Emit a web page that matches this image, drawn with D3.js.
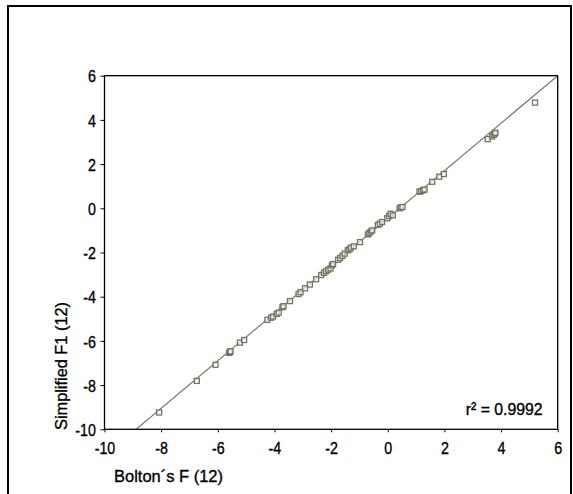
<!DOCTYPE html>
<html>
<head>
<meta charset="utf-8">
<script src="https://cdn.jsdelivr.net/npm/d3@7"></script>
<style>
  body { margin: 0; background: #fff; }
  text { font-family: "Liberation Sans", Arial, sans-serif; fill: #000; stroke: #000; stroke-width: 0.35px; }
</style>
</head>
<body>
<div id="scatter"></div>
<script>
// data
var boltonF = [-8.07, -6.74, -6.08, -5.60, -5.57, -5.55, -5.22, -5.07, -4.25, -4.12,
    -4.05, -3.92, -3.85, -3.72, -3.68, -3.45, -3.15, -3.08, -2.92, -2.75,
    -2.53, -2.35, -2.25, -2.18, -2.10, -2.02, -1.97, -1.93, -1.75, -1.68,
    -1.60, -1.52, -1.41, -1.35, -1.30, -1.20, -0.98, -0.70, -0.65, -0.60,
    -0.55, -0.35, -0.28, -0.20, -0.02, 0.05, 0.10, 0.18, 0.42, 0.46,
    0.52, 1.12, 1.18, 1.25, 1.30, 1.57, 1.82, 1.98, 3.53, 3.68,
    3.74, 3.78, 3.80, 5.20];
var simplifiedF1 = [-9.24, -7.81, -7.08, -6.54, -6.50, -6.47, -6.08, -5.96, -5.05, -4.95,
    -4.90, -4.78, -4.72, -4.48, -4.43, -4.20, -3.88, -3.80, -3.62, -3.45,
    -3.21, -3.02, -2.92, -2.85, -2.78, -2.72, -2.58, -2.52, -2.33, -2.25,
    -2.15, -2.05, -1.90, -1.85, -1.78, -1.72, -1.53, -1.18, -1.12, -1.05,
    -1.00, -0.75, -0.70, -0.62, -0.45, -0.35, -0.25, -0.32, 0.00, 0.04,
    0.06, 0.75, 0.78, 0.82, 0.85, 1.20, 1.43, 1.55, 3.13, 3.25,
    3.32, 3.38, 3.42, 4.78];
var xTicks = [-10, -8, -6, -4, -2, 0, 2, 4, 6];
var yTicks = [-10, -8, -6, -4, -2, 0, 2, 4, 6];
// fitted line y = slope * x + intercept
var slope = 1.075, intercept = -0.45;
var rSquared = "0.9992";

var data = boltonF.map(function(d, i) { return {x: d, y: simplifiedF1[i]}; });

// set the dimensions and margins of the graph
var margin = {top: 75.7, right: 15.3, bottom: 64.7, left: 104.5},
    width = 573 - margin.left - margin.right,
    height = 494 - margin.top - margin.bottom;

// narrow look: squeeze text horizontally
var squeeze = 0.84;

var root = d3.select("#scatter")
    .append("svg")
        .attr("width", 573)
        .attr("height", 494);

// outer frame
root.append("rect")
    .attr("x", 8)
    .attr("y", 6)
    .attr("width", 563)
    .attr("height", 520)
    .attr("fill", "none")
    .attr("stroke", "#000")
    .attr("stroke-width", 2);

var svg = root.append("g")
    .attr("transform", "translate(" + margin.left + "," + margin.top + ")");

var x = d3.scaleLinear().domain([-10, 6]).range([0, width]);
var y = d3.scaleLinear().domain([-10, 6]).range([height, 0]);

svg.append("clipPath")
    .attr("id", "plotclip")
    .append("rect")
        .attr("width", width)
        .attr("height", height);

// fitted line
svg.append("line")
    .attr("clip-path", "url(#plotclip)")
    .attr("x1", x(-10))
    .attr("y1", y(slope * -10 + intercept))
    .attr("x2", x(6))
    .attr("y2", y(slope * 6 + intercept))
    .attr("stroke", "#7a7565")
    .attr("stroke-width", 1.2);

// points
svg.selectAll("pts")
    .data(data)
    .enter()
    .append("rect")
        .attr("x", function(d) { return x(d.x) - 2.5; })
        .attr("y", function(d) { return y(d.y) - 2.5; })
        .attr("width", 5)
        .attr("height", 5)
        .attr("fill", "#fff")
        .attr("fill-opacity", 0.6)
        .attr("stroke", "#767160")
        .attr("stroke-width", 1.3);

// plot frame
svg.append("rect")
    .attr("width", width)
    .attr("height", height)
    .attr("fill", "none")
    .attr("stroke", "#000")
    .attr("stroke-width", 1.3);

// axes
var xAxis = svg.append("g")
    .attr("transform", "translate(0," + height + ")")
    .call(d3.axisBottom(x).tickValues(xTicks).tickSize(3).tickPadding(10));
var yAxis = svg.append("g")
    .call(d3.axisLeft(y).tickValues(yTicks).tickSize(4).tickPadding(4));

[xAxis, yAxis].forEach(function(a) {
    a.select(".domain").remove();
    a.selectAll("line").attr("stroke", "#000");
    a.selectAll("text")
        .attr("font-size", 17)
        .attr("font-family", "'Liberation Sans', Arial, sans-serif")
        .attr("fill", "#000")
        .attr("transform", "scale(" + squeeze + ",1)")
        .text(function(d) { return d < 0 ? "-" + Math.abs(d) : d; });
});
yAxis.selectAll("text")
    .attr("x", -8.5 / squeeze)
    .attr("dy", "0.36em");

// r squared
svg.append("text")
    .attr("x", x(5.47))
    .attr("y", 415 - margin.top)
    .attr("text-anchor", "end")
    .attr("font-size", 17)
    .attr("textLength", 77)
    .attr("lengthAdjust", "spacingAndGlyphs")
    .text("r² = " + rSquared);

// axis labels
root.append("text")
    .attr("x", 114)
    .attr("y", 481.5)
    .attr("font-size", 17)
    .attr("textLength", 109)
    .attr("lengthAdjust", "spacingAndGlyphs")
    .text("Bolton´s F (12)");

root.append("text")
    .attr("transform", "translate(67,430) rotate(-90)")
    .attr("font-size", 17)
    .attr("textLength", 128)
    .attr("lengthAdjust", "spacingAndGlyphs")
    .text("Simplified F1 (12)");
</script>
</body>
</html>
